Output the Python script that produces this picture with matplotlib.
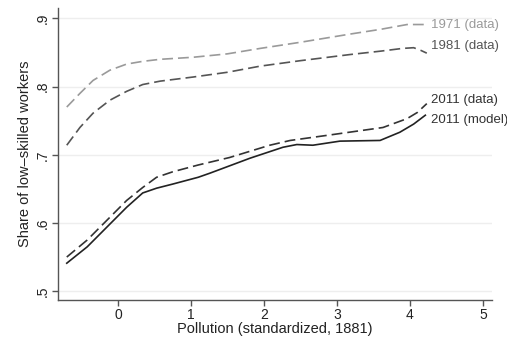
import matplotlib
matplotlib.use("Agg")
import matplotlib.pyplot as plt

plt.rcParams['font.family'] = ['Liberation Sans', 'DejaVu Sans']

x_1971 = [-0.70, -0.52, -0.34, -0.11, 0.12, 0.34, 0.58, 1.03, 1.5, 1.95, 2.5, 3.18, 3.6, 3.96, 4.23]
y_1971 = [0.770, 0.790, 0.809, 0.824, 0.833, 0.837, 0.840, 0.843, 0.848, 0.856, 0.865, 0.877, 0.884, 0.891, 0.891]

x_1981 = [-0.70, -0.52, -0.34, -0.11, 0.12, 0.34, 0.58, 1.03, 1.5, 1.95, 2.5, 3.18, 3.6, 3.9, 4.05, 4.15, 4.23]
y_1981 = [0.714, 0.740, 0.761, 0.780, 0.793, 0.803, 0.808, 0.814, 0.821, 0.830, 0.838, 0.847, 0.852, 0.856, 0.857, 0.853, 0.849]

x_2011d = [-0.70, -0.42, -0.15, 0.12, 0.34, 0.53, 0.75, 1.1, 1.53, 2.08, 2.36, 2.9, 3.63, 3.96, 4.1, 4.23]
y_2011d = [0.550, 0.575, 0.604, 0.633, 0.652, 0.667, 0.675, 0.685, 0.696, 0.714, 0.721, 0.729, 0.740, 0.753, 0.762, 0.775]

x_2011m = [-0.70, -0.42, -0.15, 0.12, 0.34, 0.53, 0.75, 1.1, 1.26, 1.81, 2.26, 2.45, 2.67, 3.04, 3.59, 3.86, 4.05, 4.21]
y_2011m = [0.541, 0.565, 0.594, 0.623, 0.644, 0.651, 0.657, 0.667, 0.673, 0.695, 0.711, 0.715, 0.714, 0.720, 0.721, 0.733, 0.745, 0.758]

labels = ["1971 (data)", "1981 (data)", "2011 (data)", "2011 (model)"]
xticks = [0, 1, 2, 3, 4, 5]
yticks = [0.5, 0.6, 0.7, 0.8, 0.9]
yticklabels = [".5", ".6", ".7", ".8", ".9"]

fig = plt.figure(figsize=(5.07, 3.40), dpi=100)
ax = fig.add_axes([0.1144, 0.1176, 0.970 - 0.1144, 0.976 - 0.1176])

ax.plot(x_1971, y_1971, color="#9a9a9a", lw=1.2, dashes=(6.5, 3))
ax.plot(x_1981, y_1981, color="#555555", lw=1.2, dashes=(6.5, 3))
ax.plot(x_2011d, y_2011d, color="#333333", lw=1.2, dashes=(6.5, 3))
ax.plot(x_2011m, y_2011m, color="#222222", lw=1.2)

lab_kw = dict(fontsize=9.5, va="center", ha="left", clip_on=False)
ax.text(4.29, 0.891, labels[0], color="#9a9a9a", **lab_kw)
ax.text(4.29, 0.859, labels[1], color="#555555", **lab_kw)
ax.text(4.29, 0.780, labels[2], color="#333333", **lab_kw)
ax.text(4.29, 0.751, labels[3], color="#333333", **lab_kw)

ax.set_xlim(-0.82, 5.12)
ax.set_ylim(0.487, 0.915)
ax.set_xticks(xticks)
ax.set_xticklabels([str(t) for t in xticks])
ax.set_yticks(yticks)
ax.set_yticklabels(yticklabels, rotation=90, va="center")

for yv in yticks:
    ax.axhline(yv, color="#eeeeee", lw=1.0, zorder=0)

for s in ["top", "right"]:
    ax.spines[s].set_visible(False)
for s in ["left", "bottom"]:
    ax.spines[s].set_color("#555555")
    ax.spines[s].set_linewidth(1.0)

ax.tick_params(axis="both", colors="#555555", labelcolor="#222222", length=4, width=1.0, labelsize=10)
ax.tick_params(axis="x", pad=2)
ax.tick_params(axis="y", pad=2)
ax.set_xlabel("Pollution (standardized, 1881)", fontsize=10.5, color="#222222", labelpad=0)
ax.set_ylabel("Share of low–skilled workers", fontsize=10.5, color="#222222", labelpad=3)

fig.savefig("out.png", dpi=100)
